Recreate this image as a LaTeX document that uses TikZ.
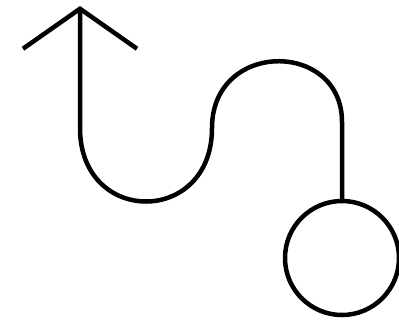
\documentclass[tikz,border=0pt]{standalone}
\usetikzlibrary{arrows.meta}

\begin{document}
\begin{tikzpicture}[
    x=1pt, y=-1pt,
    wire/.style={draw=black, line width=4.5pt, line join=round},
    ring/.style={circle, draw=black, line width=4.5pt, minimum size=114pt, inner sep=0pt},
    barb/.style={{Straight Barb[length=40pt, width=114pt, line width=4.5pt]}-}
]
\useasboundingbox (0,0) rectangle (399,322);

% Anchor points
\coordinate (tip) at (80,6);
\coordinate (dip) at (80,128);
\coordinate (rise) at (212,128);
\coordinate (drop) at (342,122);
\node[ring] (ring) at (342,258) {};

% Winding line with open arrowhead
\draw[wire, barb] (tip) -- (dip)
    .. controls (80,226) and (212,226) .. (rise)
    .. controls (212,40) and (342,40) .. (drop)
    -- (ring.north);

\end{tikzpicture}
\end{document}
